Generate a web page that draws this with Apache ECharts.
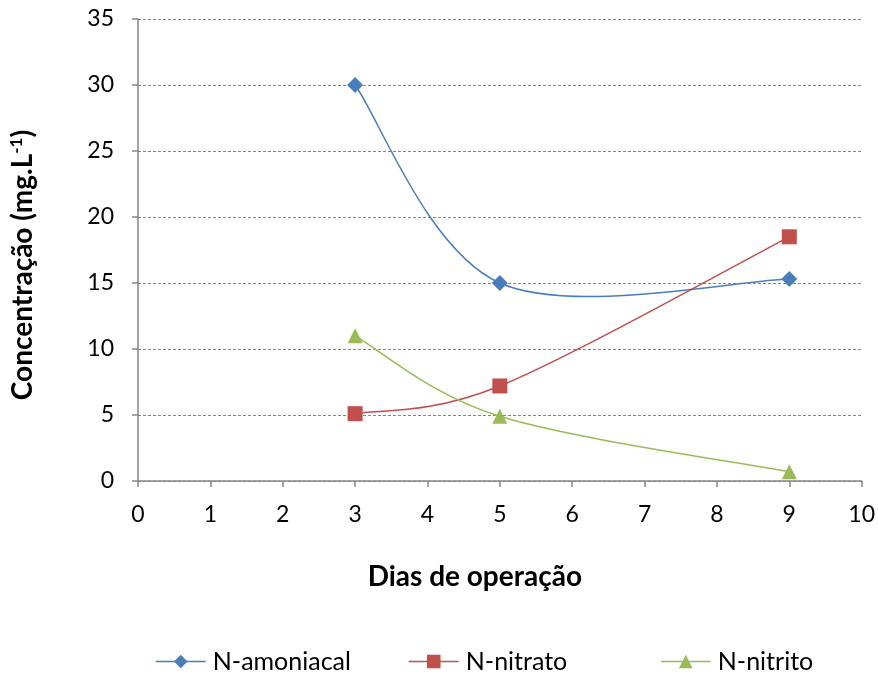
<!DOCTYPE html>
<html>
<head>
<meta charset="utf-8">
<script src="https://cdn.jsdelivr.net/npm/echarts@6/dist/echarts.min.js"></script>
<style>
  html, body { margin: 0; padding: 0; background: #fff; }
  #chart { width: 878px; height: 676px; }
</style>
</head>
<body>
<div id="chart"></div>
<script>
// Operating days and measured nitrogen concentrations (mg/L)
const days = [3, 5, 9];
const amoniacal = [30, 15, 15.3];
const nitrato = [5.1, 7.2, 18.5];
const nitrito = [11, 4.9, 0.7];
const xTicks = [0, 1, 2, 3, 4, 5, 6, 7, 8, 9, 10];
const yTicks = [0, 5, 10, 15, 20, 25, 30, 35];

const FONT = 'Lato, Carlito, "Open Sans", sans-serif';
const BLUE = '#4A7EBB', RED = '#C0504D', GREEN = '#9BBB59', AXIS = '#868686';

function pairs(xs, ys) {
  return xs.map((x, i) => [x, ys[i]]);
}

// Smoothed curve: cubic Bezier segments with Catmull-Rom tangents (1/6 factor),
// end points repeated, built from the data mapped through the axes.
function curveSeries(values, color) {
  return {
    type: 'custom',
    name: '_curve',
    data: pairs(days, values),
    silent: true,
    z: 2,
    renderItem: function (params, api) {
      const i = params.dataIndex;
      const n = days.length;
      if (i >= n - 1) return { type: 'group', children: [] };
      const P = (k) => {
        const j = Math.max(0, Math.min(n - 1, k));
        return api.coord([days[j], values[j]]);
      };
      const p0 = P(i - 1), p1 = P(i), p2 = P(i + 1), p3 = P(i + 2);
      return {
        type: 'bezierCurve',
        shape: {
          x1: p1[0], y1: p1[1],
          x2: p2[0], y2: p2[1],
          cpx1: p1[0] + (p2[0] - p0[0]) / 6, cpy1: p1[1] + (p2[1] - p0[1]) / 6,
          cpx2: p2[0] - (p3[0] - p1[0]) / 6, cpy2: p2[1] - (p3[1] - p1[1]) / 6
        },
        style: { stroke: color, lineWidth: 1.5, fill: null }
      };
    }
  };
}

// Markers (the connecting line is drawn by the curve series)
function markerSeries(name, values, color, symbol, size) {
  return {
    name: name,
    type: 'line',
    data: pairs(days, values),
    symbol: symbol,
    symbolSize: size,
    z: 3,
    lineStyle: { color: color, width: 1.5, opacity: 0 },
    itemStyle: { color: color, borderWidth: 0 },
    emphasis: { disabled: true }
  };
}

function legendAt(left, name, color) {
  return {
    left: left,
    top: 649,
    padding: 0,
    itemWidth: 50,
    itemHeight: 17,
    data: [{ name: name, lineStyle: { color: color, width: 1.5, opacity: 1 } }],
    textStyle: { fontFamily: FONT, fontSize: 25, color: '#000', padding: [0, 0, 0, 2] }
  };
}

const chart = echarts.init(document.getElementById('chart'));

chart.setOption({
  animation: false,
  backgroundColor: '#ffffff',
  textStyle: { fontFamily: FONT },
  grid: { left: 138, right: 16, top: 19, bottom: 195, containLabel: false },
  legend: [
    legendAt(155, 'N-amoniacal', BLUE),
    legendAt(408, 'N-nitrato', RED),
    legendAt(660, 'N-nitrito', GREEN)
  ],
  xAxis: {
    type: 'value',
    min: xTicks[0], max: xTicks[xTicks.length - 1], interval: 1,
    name: 'Dias de operação',
    nameLocation: 'middle',
    nameGap: 82,
    nameTextStyle: { fontFamily: FONT, fontSize: 28, fontWeight: 'bold', color: '#000', padding: [0, 50, 0, 0] },
    axisLine: { show: true, lineStyle: { color: AXIS, width: 1.5 } },
    axisTick: { show: true, length: 6, lineStyle: { color: AXIS, width: 1.5 } },
    axisLabel: { fontFamily: FONT, fontSize: 23, color: '#000', margin: 22 },
    splitLine: { show: false }
  },
  yAxis: {
    type: 'value',
    min: yTicks[0], max: yTicks[yTicks.length - 1], interval: 5,
    name: '{t|Concentração (mg.L}{s|-1}{t|)}',
    nameLocation: 'middle',
    nameGap: 101,
    nameRotate: 90,
    nameTextStyle: {
      padding: [0, 30, 0, 0],
      rich: {
        t: { fontFamily: FONT, fontSize: 28, fontWeight: 'bold', color: '#000' },
        s: { fontFamily: FONT, fontSize: 17, fontWeight: 'bold', color: '#000', verticalAlign: 'top', padding: [0, 0, 12, 0] }
      }
    },
    axisLine: { show: true, lineStyle: { color: AXIS, width: 1.5 } },
    axisTick: { show: true, length: 6, lineStyle: { color: AXIS, width: 1.5 } },
    axisLabel: { fontFamily: FONT, fontSize: 23, color: '#000', margin: 24 },
    splitLine: { show: true, lineStyle: { color: AXIS, type: [3, 2], width: 1 } }
  },
  series: [
    curveSeries(amoniacal, BLUE),
    curveSeries(nitrato, RED),
    curveSeries(nitrito, GREEN),
    markerSeries('N-amoniacal', amoniacal, BLUE, 'diamond', 16),
    markerSeries('N-nitrato', nitrato, RED, 'rect', 15),
    markerSeries('N-nitrito', nitrito, GREEN, 'triangle', 15)
  ]
});
</script>
</body>
</html>
